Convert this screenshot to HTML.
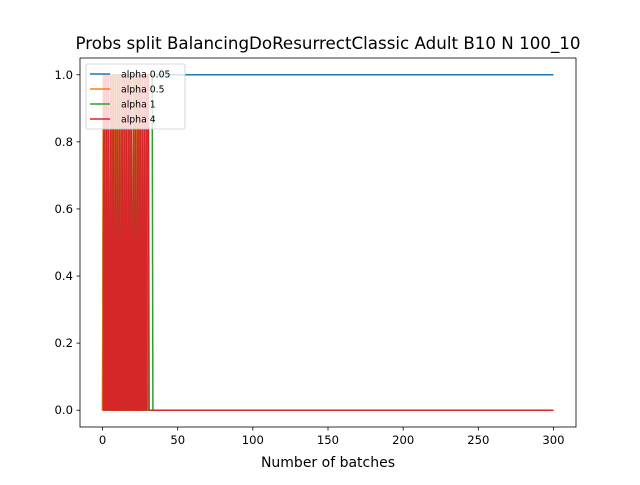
<!DOCTYPE html>
<html><head><meta charset="utf-8">
<style>
body{margin:0;background:#fff;}
svg text{font-family:"DejaVu Sans","Liberation Sans",sans-serif;}
</style></head>
<body>
<svg id="chart" width="640" height="480" viewBox="0 0 640 480">
<rect width="640" height="480" fill="#fff"/>
<text x="328" y="49" style="font-size:16.7px" text-anchor="middle">Probs split BalancingDoResurrectClassic Adult B10 N 100_10</text>
<g id="series"></g>
<rect x="80" y="58" width="496" height="369" fill="none" stroke="#000" stroke-width="0.8"/>
<g id="xticks"></g>
<g id="yticks"></g>
<text x="328" y="467" style="font-size:14px" text-anchor="middle">Number of batches</text>
<g id="legend">
<rect x="86" y="64" width="99" height="65" rx="2" fill="#fff" fill-opacity="0.8" stroke="#ccc" stroke-width="0.8"/>
</g>
</svg>
<script>
const NS="http://www.w3.org/2000/svg";
const xTicks=[0,50,100,150,200,250,300];
const yTicks=[0.0,0.2,0.4,0.6,0.8,1.0];
const yTickLabels=["0.0","0.2","0.4","0.6","0.8","1.0"];
const seriesNames=["alpha 0.05","alpha 0.5","alpha 1","alpha 4"];
const seriesColors=["#1f77b4","#ff7f0e","#2ca02c","#d62728"];
const xStep=0.5;
const nSamples=601;
// first values (sampled every 0.5 batch); remaining samples hold the last value
const alpha005Head=[0,1];
const alpha05Head=[0,1,0,1,0,0,1,0,1,0,0,1,0,1,0,0,1,0,1,0,0,1,0,1,0,0,1,0,1,0,0,1,0,1,0,0,1,0,1,0,0,1,0,1,0,0,1,0,1,0,0,1,0,1,0,0,1,0,1,0,0,0];
const alpha1Head=[0,0,1,0,0,1,0,0,1,0,0,1,0,0,1,0,0,1,0,0,1,0,0,1,0,0,1,0,0,1,0,0,1,0,0,1,0,0,1,0,0,1,0,0,1,0,0,1,0,0,1,0,0,1,0,0,1,0,0,1,0,1,1,1,1,1,1,0];
const alpha4Head=[0,0,1,0,0,1,0,0,1,0,0,1,0,0,1,0,0,1,0,0,1,0,0,1,0,0,1,0,0,1,0,0,1,0,0,1,0,0,1,0,0,1,0,0,1,0,0,1,0,0,1,0,0,1,0,0,1,0,0,1,1,1,0];
const heads=[alpha005Head,alpha05Head,alpha1Head,alpha4Head];

const X0=80,X1=576,Y0=58,Y1=427;
const xmin=-15,xmax=315,ymin=-0.05,ymax=1.05;
const sx=v=>X0+(v-xmin)/(xmax-xmin)*(X1-X0);
const sy=v=>Y1-(v-ymin)/(ymax-ymin)*(Y1-Y0);
function mk(tag,attrs,parent){const e=document.createElementNS(NS,tag);for(const k in attrs)e.setAttribute(k,attrs[k]);parent.appendChild(e);return e;}

const sg=document.getElementById('series');
heads.forEach((h,i)=>{
  const vals=[];for(let k=0;k<nSamples;k++)vals.push(k<h.length?h[k]:h[h.length-1]);
  const d=vals.map((v,k)=>(k?'L':'M')+sx(k*xStep).toFixed(2)+','+sy(v).toFixed(2)).join('');
  const p=mk('path',{d:d,fill:'none',stroke:seriesColors[i],'stroke-width':1.5,'stroke-linejoin':'round'},sg);
  
  
});
const xg=document.getElementById('xticks');
xTicks.forEach(t=>{
  const l=mk('line',{x1:sx(t),x2:sx(t),y1:Y1,y2:Y1+3.5,stroke:'#000','stroke-width':0.8},xg);
  
  
  const tx=mk('text',{x:sx(t),y:Y1+17,style:'font-size:11.6px','text-anchor':'middle'},xg);
  tx.textContent=t;
  
  
});
const yg=document.getElementById('yticks');
yTicks.forEach((t,i)=>{
  const l=mk('line',{x1:X0-3.5,x2:X0,y1:sy(t),y2:sy(t),stroke:'#000','stroke-width':0.8},yg);
  
  
  const tx=mk('text',{x:X0-7,y:sy(t)+4,style:'font-size:11.6px','text-anchor':'end'},yg);
  tx.textContent=yTickLabels[i];
  
  
});
const lg=document.getElementById('legend');
seriesNames.forEach((n,i)=>{
  const y=74+i*15;
  const l=mk('line',{x1:90,x2:110,y1:y,y2:y,stroke:seriesColors[i],'stroke-width':1.5},lg);
  
  
  const t=mk('text',{x:121,y:y+3.5,style:'font-size:9.3px'},lg);
  t.textContent=n;
  
  
});
</script>
</body></html>
